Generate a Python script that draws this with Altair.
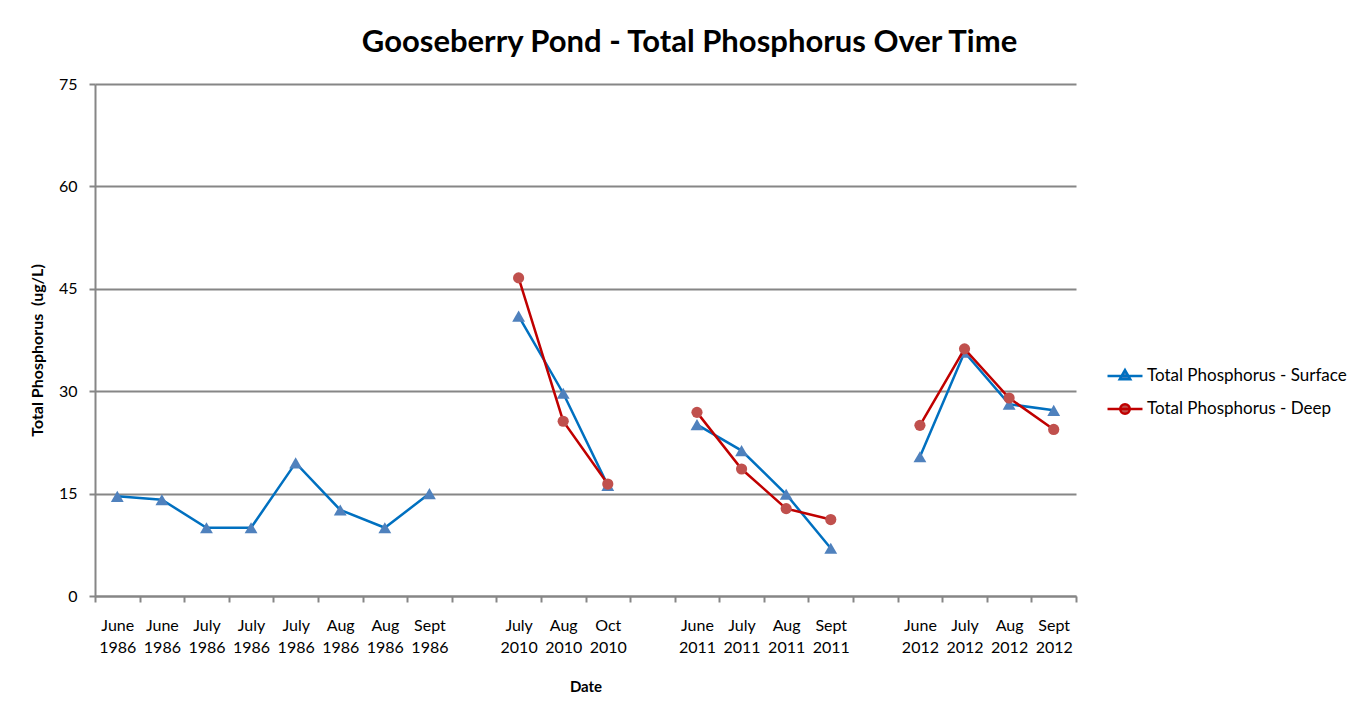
import json
import altair as alt
import pandas as pd

# ---------------- data ----------------
categories = [
    "June 1986", "June 1986", "July 1986", "July 1986", "July 1986", "Aug 1986", "Aug 1986", "Sept 1986", "",
    "July 2010", "Aug 2010", "Oct 2010", "",
    "June 2011", "July 2011", "Aug 2011", "Sept 2011", "",
    "June 2012", "July 2012", "Aug 2012", "Sept 2012",
]
surface = [14.6, 14.1, 10.0, 10.0, 19.5, 12.6, 10.0, 15.0, None,
           41.0, 29.7, 16.2, None,
           25.1, 21.3, 14.9, 7.0, None,
           20.4, 35.7, 28.1, 27.2]
deep = [None, None, None, None, None, None, None, None, None,
        46.6, 25.6, 16.4, None,
        26.9, 18.6, 12.8, 11.2, None,
        25.0, 36.2, 29.0, 24.4]
series_names = ["Total Phosphorus - Surface", "Total Phosphorus - Deep"]
y_ticks = [0, 15, 30, 45, 60, 75]

# ---------------- styles ----------------
line_colors = ["#0070C0", "#C00000"]
marker_colors = ["#4F81BD", "#C0504D"]
legend_paths = [
    "M-1.06,0L1.06,0M0,-0.36L0.32,0.2L-0.32,0.2Z",
    "M-1.06,0L1.06,0M-0.29,0A0.29,0.29 0 1,0 0.29,0A0.29,0.29 0 1,0 -0.29,0Z",
]
FONT = "Lato"
GRAY = "#868686"

rows = []
seg = 0
for i, cat in enumerate(categories):
    if cat == "":
        seg += 1
        continue
    for name, vals in zip(series_names, [surface, deep]):
        v = vals[i]
        if v is not None:
            rows.append({"idx": i, "series": name, "value": v, "seg": seg})
df = pd.DataFrame(rows)

label_pairs = [c.split(" ") if c else ["", ""] for c in categories]
label_expr = json.dumps(label_pairs) + "[datum.value]"

stroke_scale = alt.Scale(domain=series_names, range=line_colors)
fill_scale = alt.Scale(domain=series_names, range=marker_colors)
shape_scale = alt.Scale(domain=series_names, range=legend_paths)

x_enc = alt.X(
    "idx:O",
    scale=alt.Scale(type="band", domain=list(range(len(categories))), paddingInner=0, paddingOuter=0),
    axis=alt.Axis(
        title="Date", labelExpr=label_expr, labelAngle=0, labelOverlap=False,
        tickBand="extent", labelFont=FONT, labelFontSize=16, labelLineHeight=22,
        labelPadding=15, labelColor="#000", labelLimit=200,
        titleFont=FONT, titleFontSize=15, titleFontWeight="bold", titleColor="#000",
        titlePadding=24, domainColor=GRAY, domainWidth=2, tickColor=GRAY,
        tickWidth=2, tickSize=6, grid=False,
    ),
)
y_enc = alt.Y(
    "value:Q",
    scale=alt.Scale(domain=[0, 75], nice=False, zero=True),
    axis=alt.Axis(
        values=y_ticks, title="Total Phosphorus\u00a0 (ug/L)",
        labelFont=FONT, labelFontSize=16, labelColor="#000", labelPadding=12,
        titleFont=FONT, titleFontSize=16, titleFontWeight="bold", titleColor="#000",
        titlePadding=13, titleY=266, grid=True, gridColor=GRAY, gridWidth=2,
        domainColor=GRAY, domainWidth=2, tickColor=GRAY, tickWidth=2, tickSize=6,
    ),
)

legend = alt.Legend(
    title=None, orient="none", legendX=1012, legendY=274, symbolSize=1089,
    labelOffset=4, rowPadding=6, labelFont=FONT, labelFontSize=17, labelColor="#000",
    symbolStrokeWidth=2.5, labelLimit=400, symbolOpacity=1,
)

legend_layer = (
    alt.Chart(pd.DataFrame({"series": series_names}))
    .transform_filter("false")
    .mark_point(filled=True, opacity=1, strokeWidth=2.5)
    .encode(
        fill=alt.Fill("series:N", scale=fill_scale, legend=legend),
        stroke=alt.Stroke("series:N", scale=stroke_scale, legend=legend),
        shape=alt.Shape("series:N", scale=shape_scale, legend=legend),
    )
)

base = alt.Chart(df)


def series_layers(name, shape, size):
    sub = base.transform_filter(alt.datum.series == name)
    line = sub.mark_line(strokeWidth=2.5).encode(
        x=x_enc, y=y_enc,
        stroke=alt.Stroke("series:N", scale=stroke_scale, legend=None),
        detail="seg:N",
    )
    pts = sub.mark_point(shape=shape, filled=True, size=size, opacity=1).encode(
        x=x_enc, y=y_enc,
        fill=alt.Fill("series:N", scale=fill_scale, legend=None),
    )
    return [line, pts]


layers = [legend_layer]
layers += series_layers(series_names[0], "triangle-up", 165)
layers += series_layers(series_names[1], "circle", 125)

chart = (
    alt.layer(*layers)
    .properties(
        width=981, height=512,
        title=alt.TitleParams(
            "Gooseberry Pond - Total Phosphorus Over Time", font=FONT, fontSize=31,
            fontWeight="bold", anchor="middle", dx=104, offset=17, color="#000",
        ),
        autosize=alt.AutoSizeParams(type="none"),
        padding={"left": 87, "top": 76, "right": 285, "bottom": 100},
        background="white",
    )
    .configure_view(stroke=None)
)

chart.save("out.html", embed_options={"renderer": "svg", "actions": False})
